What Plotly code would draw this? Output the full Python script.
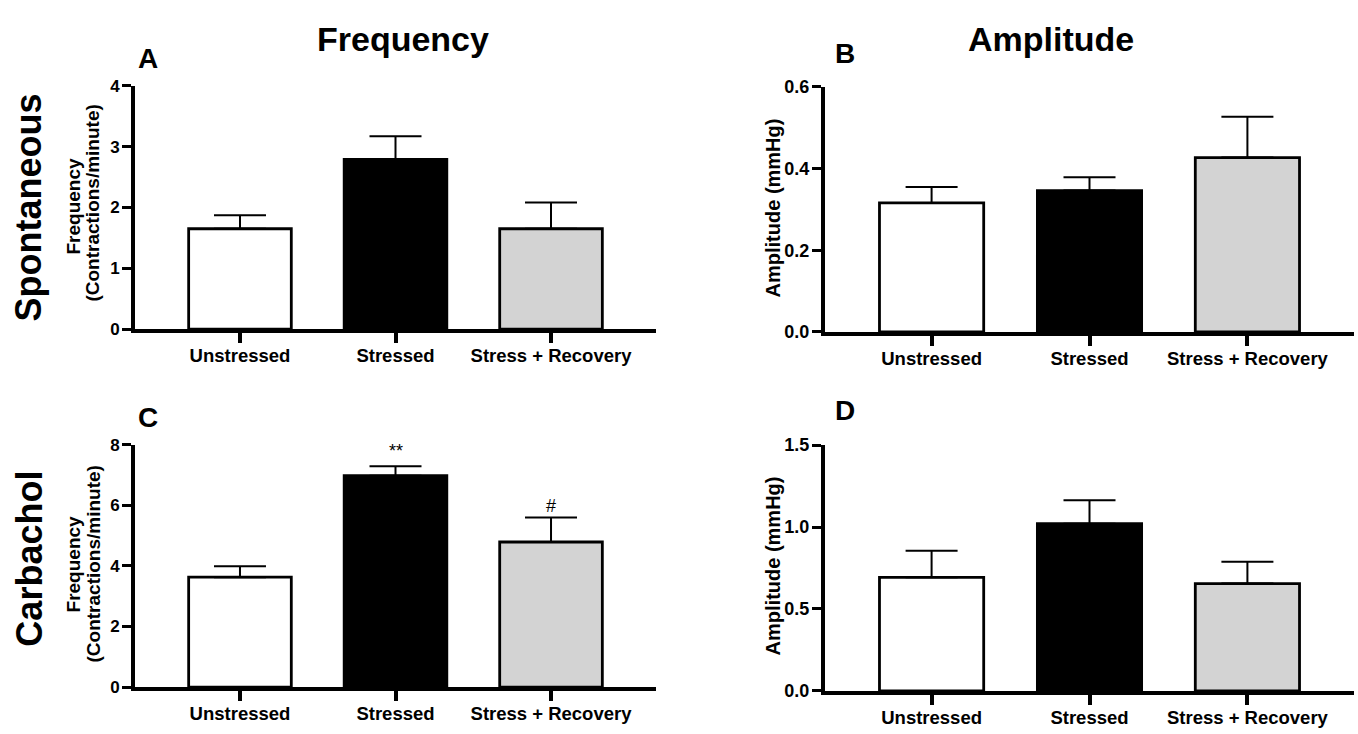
import plotly.graph_objects as go

categories = ["Unstressed", "Stressed", "Stress + Recovery"]
bar_colors = ["#ffffff", "#000000", "#d3d3d3"]

# Panel A: spontaneous frequency (contractions/minute)
spont_freq = [1.65, 2.79, 1.65]
spont_freq_sem = [0.22, 0.38, 0.43]
# Panel B: spontaneous amplitude (mmHg)
spont_amp = [0.316, 0.346, 0.427]
spont_amp_sem = [0.039, 0.033, 0.100]
# Panel C: carbachol frequency
carb_freq = [3.63, 6.98, 4.79]
carb_freq_sem = [0.36, 0.31, 0.81]
# Panel D: carbachol amplitude
carb_amp = [0.693, 1.02, 0.655]
carb_amp_sem = [0.162, 0.144, 0.133]

W, H = 1358, 734
FONT = "Liberation Sans, Arial, Helvetica, sans-serif"

fig = go.Figure()

panels = [
    ("x", "y", spont_freq, spont_freq_sem),
    ("x2", "y2", spont_amp, spont_amp_sem),
    ("x3", "y3", carb_freq, carb_freq_sem),
    ("x4", "y4", carb_amp, carb_amp_sem),
]
for xa, ya, vals, sems in panels:
    fig.add_trace(go.Bar(
        x=categories, y=vals, xaxis=xa, yaxis=ya, width=0.66,
        marker=dict(color=bar_colors, line=dict(color="black", width=2.8)),
        error_y=dict(type="data", symmetric=False, array=sems,
                     arrayminus=[0] * len(sems), color="black",
                     thickness=2, width=26),
        showlegend=False, hoverinfo="skip",
    ))

def px_x(v):
    return v / W

def px_y(v):
    return 1 - v / H

xcommon = dict(type="category", range=[-0.675, 2.675], showline=True,
               linecolor="black", linewidth=4, ticks="outside", ticklen=10,
               tickwidth=3.5, tickcolor="black", showgrid=False, zeroline=False,
               ticklabelstandoff=-3,
               tickfont=dict(family=FONT, size=18.5, color="black", weight="bold"))

def ycommon(rng, dtick, fmt, size):
    return dict(range=rng, dtick=dtick, tick0=0, tickformat=fmt, showline=True,
                linecolor="black", linewidth=4, ticks="outside", ticklen=9,
                tickwidth=3, tickcolor="black", showgrid=False, zeroline=False,
                tickfont=dict(family=FONT, size=size, color="black", weight="bold"),
                ticklabelstandoff=-1)

fig.update_layout(
    width=W, height=H, margin=dict(l=0, r=0, t=0, b=0),
    paper_bgcolor="white", plot_bgcolor="white",
    xaxis=dict(domain=[px_x(135), px_x(656)], anchor="y", **xcommon),
    xaxis2=dict(domain=[px_x(825), px_x(1354)], anchor="y2", **xcommon),
    xaxis3=dict(domain=[px_x(135), px_x(656)], anchor="y3", **xcommon),
    xaxis4=dict(domain=[px_x(825), px_x(1354)], anchor="y4", **xcommon),
    yaxis=dict(domain=[px_y(328), px_y(78)], anchor="x", **ycommon([0, 4], 1, "d", 17)),
    yaxis2=dict(domain=[px_y(331), px_y(79)], anchor="x2", **ycommon([0, 0.6], 0.2, ".1f", 18)),
    yaxis3=dict(domain=[px_y(696), px_y(447)], anchor="x3", **ycommon([0, 8], 2, "d", 17)),
    yaxis4=dict(domain=[px_y(700), px_y(447.3)], anchor="x4", **ycommon([0, 1.5], 0.5, ".1f", 18)),
)

def ann(text, x, y, size, angle=0, bold=True):
    fig.add_annotation(text=text, x=px_x(x), y=px_y(y), xref="paper", yref="paper",
                       showarrow=False, textangle=angle, xanchor="center", yanchor="middle",
                       font=dict(family=FONT, size=size, color="black",
                                 weight="bold" if bold else "normal"))

# column titles and panel letters
ann("Frequency", 403, 30, 34)
ann("Amplitude", 1051, 30, 34)
ann("A", 148, 50, 28)
ann("B", 845, 45, 28)
ann("C", 148, 419, 28)
ann("D", 845, 412, 28)
# row labels
ann("Spontaneous", 28, 203, 36, angle=-90)
ann("Carbachol", 30, 564, 36, angle=-90)
# y-axis titles
ann("Frequency", 73, 202, 19, angle=-90)
ann("(Contractions/minute)", 93, 199, 19, angle=-90)
ann("Frequency", 73, 570, 19, angle=-90)
ann("(Contractions/minute)", 93, 570, 19, angle=-90)
ann("Amplitude (mmHg)", 773, 204, 20, angle=-90)
ann("Amplitude (mmHg)", 773, 572, 20, angle=-90)

# significance markers above error bars
fig.add_annotation(text="**", x=categories[1], y=carb_freq[1] + carb_freq_sem[1],
                   xref="x3", yref="y3", showarrow=False, yanchor="bottom", yshift=3,
                   font=dict(family=FONT, size=18, color="black"))
fig.add_annotation(text="#", x=categories[2], y=carb_freq[2] + carb_freq_sem[2],
                   xref="x3", yref="y3", showarrow=False, yanchor="bottom", yshift=-1,
                   font=dict(family=FONT, size=18, color="black"))

fig.write_html("out.html")
